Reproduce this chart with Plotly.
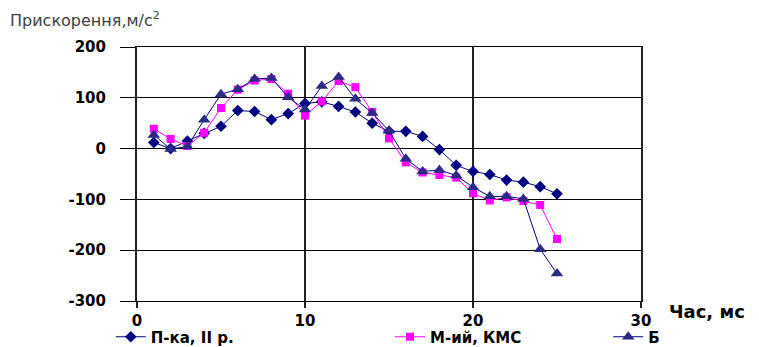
import plotly.graph_objects as go

time_ms = list(range(1, 26))
series_names = ["П-ка, II р.", "М-ий, КМС", "Б"]
p_ka = [12, 0, 15, 30, 44, 75, 73, 57, 69, 89, 92, 83, 72, 50, 34,
        34, 24, -2, -33, -45, -51, -62, -66, -75, -89]
m_iy = [39, 19, 5, 31, 80, 116, 134, 137, 108, 65, 93, 133, 121, 72, 20,
        -27, -47, -52, -57, -88, -102, -96, -103, -111, -178]
b_vals = [27, -1, 4, 57, 107, 117, 137, 139, 101, 77, 123, 141, 98, 70, 35,
          -20, -45, -42, -53, -76, -94, -94, -99, -198, -246]
x_ticks = [0, 10, 20, 30]
y_ticks = [-300, -200, -100, 0, 100, 200]
y_tick_text = ["-300", "-200", "-100", "0", "100", "200"]

NAVY = "#000080"
MAG = "#FF00FF"
TRI = "#2B2B85"

fig = go.Figure()
fig.add_trace(go.Scatter(x=time_ms, y=p_ka, name=series_names[0], mode="lines+markers",
                         line=dict(color=NAVY, width=1),
                         marker=dict(symbol="diamond", size=9, color=NAVY),
                         legend="legend"))
fig.add_trace(go.Scatter(x=time_ms, y=m_iy, name=series_names[1], mode="lines+markers",
                         line=dict(color=MAG, width=1),
                         marker=dict(symbol="square", size=8, color=MAG),
                         legend="legend2"))
fig.add_trace(go.Scatter(x=time_ms, y=b_vals, name=series_names[2], mode="lines+markers",
                         line=dict(color=NAVY, width=1),
                         marker=dict(symbol="triangle-up", size=11, color=TRI),
                         legend="legend3"))

tick_font = dict(family="DejaVu Sans", size=15, color="black", weight="bold")
leg_font = dict(family="DejaVu Sans", size=15, color="black", weight="bold")

# page has an 8px body margin; figure is sized to fit the 759x347 window
FIG_W, FIG_H = 751, 339
LEG_Y = 1 - 329 / FIG_H

fig.update_layout(
    width=FIG_W, height=FIG_H,
    margin=dict(l=129, r=118, t=39, b=46, autoexpand=False),
    paper_bgcolor="white", plot_bgcolor="white",
    showlegend=True,
    xaxis=dict(range=[0, 30], tickvals=x_ticks, ticks="outside", ticklen=6,
               tickcolor="#222", tickwidth=2,
               showgrid=True, gridcolor="#222", gridwidth=2,
               showline=True, linecolor="black", linewidth=1, mirror=True,
               zeroline=False, tickfont=tick_font, ticklabelstandoff=0),
    yaxis=dict(range=[-300, 200], tickvals=y_ticks, ticktext=y_tick_text,
               ticks="outside", ticklen=15,
               tickcolor="black", tickwidth=1,
               showgrid=True, gridcolor="black", gridwidth=1,
               showline=True, linecolor="#222", linewidth=2, mirror=True,
               zeroline=False, tickfont=tick_font, ticklabelstandoff=11),
    legend=dict(orientation="h", x=-0.052, xanchor="left", y=LEG_Y, yanchor="middle",
                yref="container", font=leg_font, bgcolor="rgba(0,0,0,0)"),
    legend2=dict(orientation="h", x=0.502, xanchor="left", y=LEG_Y, yanchor="middle",
                 yref="container", font=leg_font, bgcolor="rgba(0,0,0,0)"),
    legend3=dict(orientation="h", x=0.935, xanchor="left", y=LEG_Y, yanchor="middle",
                 yref="container", font=leg_font, bgcolor="rgba(0,0,0,0)"),
    annotations=[
        dict(text="Прискорення,м/с<sup>2</sup>", xref="paper", yref="paper",
             x=(8 - 137) / 504, y=1.11, xanchor="left", yanchor="middle", showarrow=False,
             font=dict(family="DejaVu Sans", size=16, color="#404040")),
        dict(text="Час, мс", xref="paper", yref="paper",
             x=(667 - 137) / 504, y=-0.04, xanchor="left", yanchor="middle", showarrow=False,
             font=dict(family="DejaVu Sans", size=18, color="black", weight="bold")),
    ],
)

fig.write_html("out.html")
